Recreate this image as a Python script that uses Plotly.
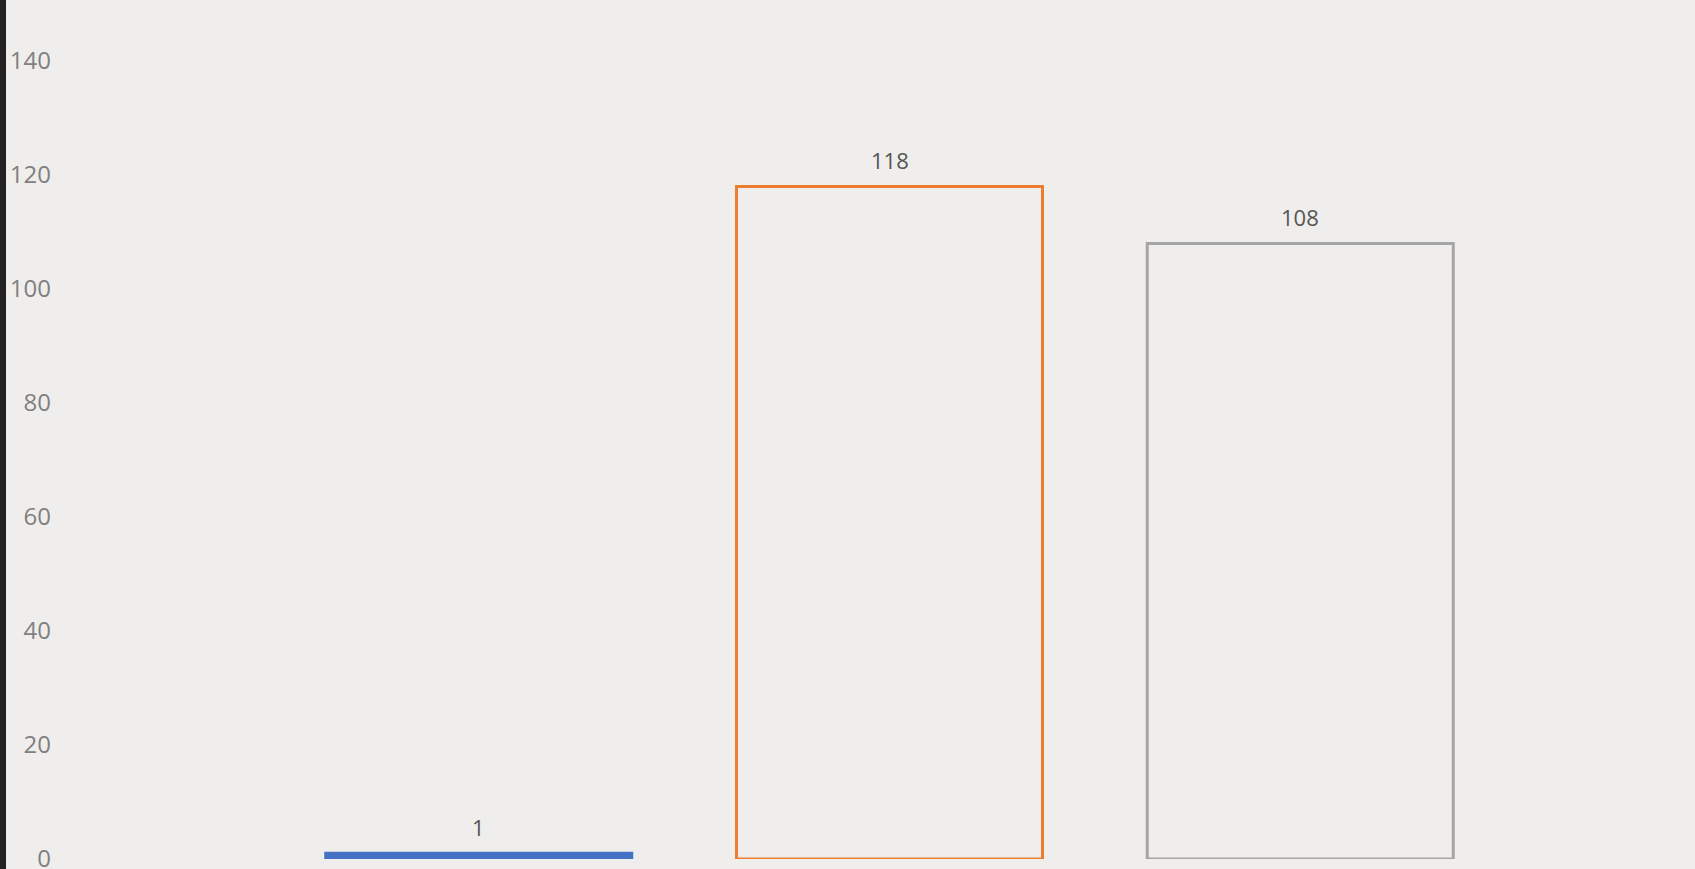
import plotly.graph_objects as go

categories = [0, 1, 2]
values = [1, 118, 108]
labels = ["1", "118", "108"]
line_colors = ["#4472c4", "#ed7d31", "#a5a5a5"]
fill_colors = ["#4472c4", "rgba(0,0,0,0)", "rgba(0,0,0,0)"]
y_ticks = [0, 20, 40, 60, 80, 100, 120, 140]

L, R, T, B = 52, 0, 0, 10
W, H = 1695, 869

fig = go.Figure()
fig.add_trace(go.Bar(
    x=categories, y=values, width=0.745,
    marker=dict(color=fill_colors, line=dict(color=line_colors, width=3)),
    hoverinfo="skip", showlegend=False,
))
for c, v, t in zip(categories, values, labels):
    fig.add_annotation(x=c, y=v, text=t, showarrow=False, yanchor="bottom",
                       yshift=9, font=dict(family="Open Sans", size=22, color="#555555"))

fig.add_shape(type="rect", xref="paper", yref="paper",
              x0=-L / (W - L - R), x1=-(L - 6) / (W - L - R), y0=-B / (H - T - B), y1=1.0,
              fillcolor="#222222", line=dict(width=0), layer="above")

fig.update_layout(
    width=W, height=H,
    margin=dict(l=L, r=R, t=T, b=B, pad=0, autoexpand=False),
    paper_bgcolor="#efeeec", plot_bgcolor="#efeeec",
    xaxis=dict(range=[-1.0389, 2.961], showticklabels=False, showgrid=False,
               zeroline=False, showline=False, fixedrange=True, automargin=False),
    yaxis=dict(range=[0, 150.7], tickvals=y_ticks, showgrid=False, zeroline=False,
               showline=False, ticks="", ticklabeloverflow="allow", automargin=False,
               tickfont=dict(family="Open Sans", size=24, color="#808080"),
               fixedrange=True),
)
fig.write_html("out.html", config={"displayModeBar": False},
               post_script="document.body.style.margin='0';document.body.style.overflow='hidden';")
